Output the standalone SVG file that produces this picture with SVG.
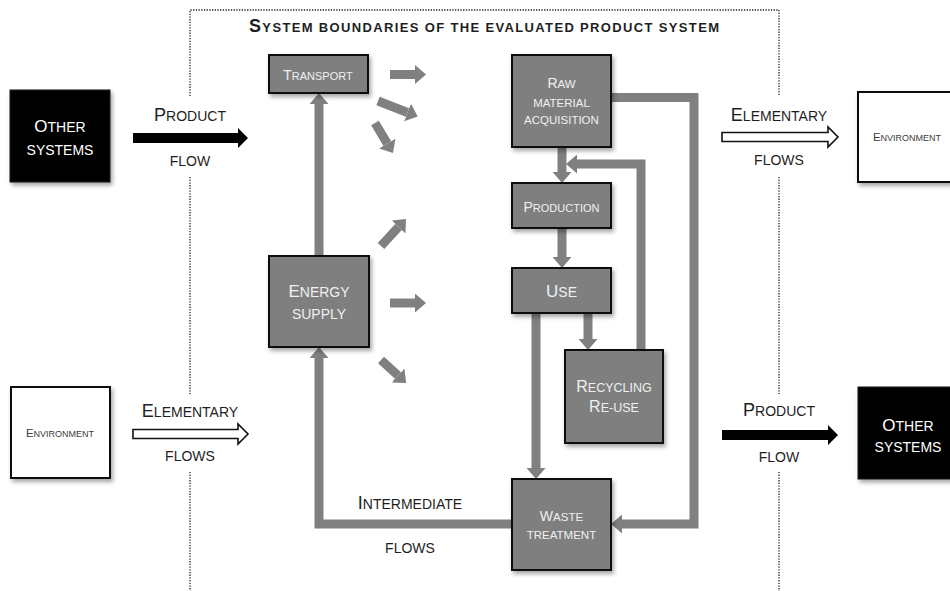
<svg xmlns="http://www.w3.org/2000/svg" width="950" height="591" viewBox="0 0 950 591">
<defs>
<filter id="sh" x="-20%" y="-20%" width="150%" height="150%">
<feDropShadow dx="2" dy="3" stdDeviation="2" flood-color="#000" flood-opacity="0.35"/>
</filter>
<marker id="ah" viewBox="0 0 11 19" refX="0" refY="9.5" markerWidth="11" markerHeight="19" markerUnits="userSpaceOnUse" orient="auto">
<path d="M0,0 L11,9.5 L0,19 Z" fill="#808080"/>
</marker>
</defs>
<style>
text{font-family:"Liberation Sans",Arial,sans-serif;text-anchor:middle}
.gbox{fill:#7f7f7f;stroke:#111;stroke-width:2;filter:url(#sh)}
.bbox{fill:#000;stroke:#111;stroke-width:1;filter:url(#sh)}
.wbox{fill:#fff;stroke:#111;stroke-width:2;filter:url(#sh)}
.gt{fill:#f0f0f0}
.wt{fill:#fff}
.dt{fill:#1e1e1e}
.et{fill:#3c3c3c}
.con{fill:none;stroke:#808080;stroke-width:9;stroke-linejoin:miter}
.fan{fill:none;stroke:#808080;stroke-width:9}
.bnd{fill:none;stroke:#222;stroke-width:1.3;stroke-dasharray:1.3 1.4}
</style>

<g id="boundary">
<path class="bnd" d="M190,96 V10 H779 V96 M190,177 V394 M190,472 V591 M779,177 V394 M779,472 V591"/>
<text x="484" y="32" class="dt" font-weight="bold" font-size="13" textLength="470" lengthAdjust="spacing"><tspan font-size="18">S</tspan>YSTEM BOUNDARIES OF THE EVALUATED PRODUCT SYSTEM</text>
</g>

<g id="connectors">
<path class="con" d="M319,256 V104" marker-end="url(#ah)"/>
<path class="con" d="M512,524 H319 V358" marker-end="url(#ah)"/>
<path class="con" d="M611,97.5 H694 V524 H622" marker-end="url(#ah)"/>
<path class="con" d="M562,147 V172" marker-end="url(#ah)"/>
<path class="con" d="M641,350 V164 H577" marker-end="url(#ah)"/>
<path class="con" d="M562,228 V257" marker-end="url(#ah)"/>
<path class="con" d="M588,313 V339" marker-end="url(#ah)"/>
<path class="con" d="M536,313 V468" marker-end="url(#ah)"/>
<path class="fan" d="M390,74.5 H415" marker-end="url(#ah)"/>
<path class="fan" d="M378,101 L407.5,112.5" marker-end="url(#ah)"/>
<path class="fan" d="M375,123 L387.3,143.6" marker-end="url(#ah)"/>
<path class="fan" d="M381,246 L398.5,227" marker-end="url(#ah)"/>
<path class="fan" d="M390,303 H415" marker-end="url(#ah)"/>
<path class="fan" d="M381,360 L398,375.5" marker-end="url(#ah)"/>
</g>

<g id="flow-product-in">
<polygon points="133,133 238,133 238,128 248,138 238,148 238,143 133,143" fill="#000"/>
<text x="190" y="121" class="dt" font-size="14"><tspan font-size="18">P</tspan>RODUCT</text>
<text x="190" y="166" class="dt" font-size="14">FLOW</text>
</g>
<g id="flow-elementary-in">
<polygon points="133,429.5 238,429.5 238,424 248,434 238,444 238,438.5 133,438.5" fill="#fff" stroke="#111" stroke-width="1.6"/>
<text x="190" y="417" class="dt" font-size="14"><tspan font-size="18">E</tspan>LEMENTARY</text>
<text x="190" y="461" class="dt" font-size="14">FLOWS</text>
</g>
<g id="flow-elementary-out">
<polygon points="722,132.5 828,132.5 828,127 838,137 828,147 828,141.5 722,141.5" fill="#fff" stroke="#111" stroke-width="1.6"/>
<text x="779" y="121" class="dt" font-size="14"><tspan font-size="18">E</tspan>LEMENTARY</text>
<text x="779" y="165" class="dt" font-size="14">FLOWS</text>
</g>
<g id="flow-product-out">
<polygon points="722,430 828,430 828,425 838,435 828,445 828,440 722,440" fill="#000"/>
<text x="779" y="416" class="dt" font-size="14"><tspan font-size="18">P</tspan>RODUCT</text>
<text x="779" y="462" class="dt" font-size="14">FLOW</text>
</g>
<g id="flow-intermediate">
<text x="410" y="509" class="dt" font-size="14"><tspan font-size="18">I</tspan>NTERMEDIATE</text>
<text x="410" y="553" class="dt" font-size="14">FLOWS</text>
</g>

<g id="other-systems-left">
<rect class="bbox" x="10" y="90" width="100" height="92"/>
<text x="60" y="132" class="wt" font-size="14"><tspan font-size="17">O</tspan>THER</text>
<text x="60" y="155" class="wt" font-size="14">SYSTEMS</text>
</g>
<g id="environment-left">
<rect class="wbox" x="11" y="387" width="99" height="91"/>
<text x="60" y="437" class="et" font-size="9"><tspan font-size="11.5">E</tspan>NVIRONMENT</text>
</g>
<g id="environment-right">
<rect class="wbox" x="858" y="92" width="100" height="90"/>
<text x="907" y="141" class="et" font-size="9"><tspan font-size="11.5">E</tspan>NVIRONMENT</text>
</g>
<g id="other-systems-right">
<rect class="bbox" x="858" y="387" width="100" height="92"/>
<text x="908" y="431" class="wt" font-size="14"><tspan font-size="17">O</tspan>THER</text>
<text x="908" y="452" class="wt" font-size="14">SYSTEMS</text>
</g>

<g id="transport">
<rect class="gbox" x="269" y="55" width="99" height="38"/>
<text x="318" y="80" class="gt" font-size="11"><tspan font-size="14">T</tspan>RANSPORT</text>
</g>
<g id="energy-supply">
<rect class="gbox" x="269" y="256" width="100" height="91"/>
<text x="319" y="297" class="gt" font-size="14"><tspan font-size="17">E</tspan>NERGY</text>
<text x="319" y="319" class="gt" font-size="14">SUPPLY</text>
</g>
<g id="raw-material">
<rect class="gbox" x="512" y="55" width="99" height="92"/>
<text x="561.5" y="88" class="gt" font-size="11.5"><tspan font-size="14">R</tspan>AW</text>
<text x="561.5" y="107" class="gt" font-size="11.5">MATERIAL</text>
<text x="561.5" y="124" class="gt" font-size="11.5">ACQUISITION</text>
</g>
<g id="production">
<rect class="gbox" x="512" y="183" width="99" height="45"/>
<text x="561.5" y="212" class="gt" font-size="11"><tspan font-size="14">P</tspan>RODUCTION</text>
</g>
<g id="use">
<rect class="gbox" x="512" y="268" width="99" height="45"/>
<text x="561.5" y="297" class="gt" font-size="14"><tspan font-size="17">U</tspan>SE</text>
</g>
<g id="recycling">
<rect class="gbox" x="565" y="350" width="98" height="93"/>
<text x="614" y="392" class="gt" font-size="12.5"><tspan font-size="16">R</tspan>ECYCLING</text>
<text x="614" y="412" class="gt" font-size="12.5"><tspan font-size="16">R</tspan>E-USE</text>
</g>
<g id="waste-treatment">
<rect class="gbox" x="512" y="479" width="99" height="91"/>
<text x="561.5" y="521" class="gt" font-size="11.5"><tspan font-size="14">W</tspan>ASTE</text>
<text x="561.5" y="539" class="gt" font-size="11.5">TREATMENT</text>
</g>
</svg>
